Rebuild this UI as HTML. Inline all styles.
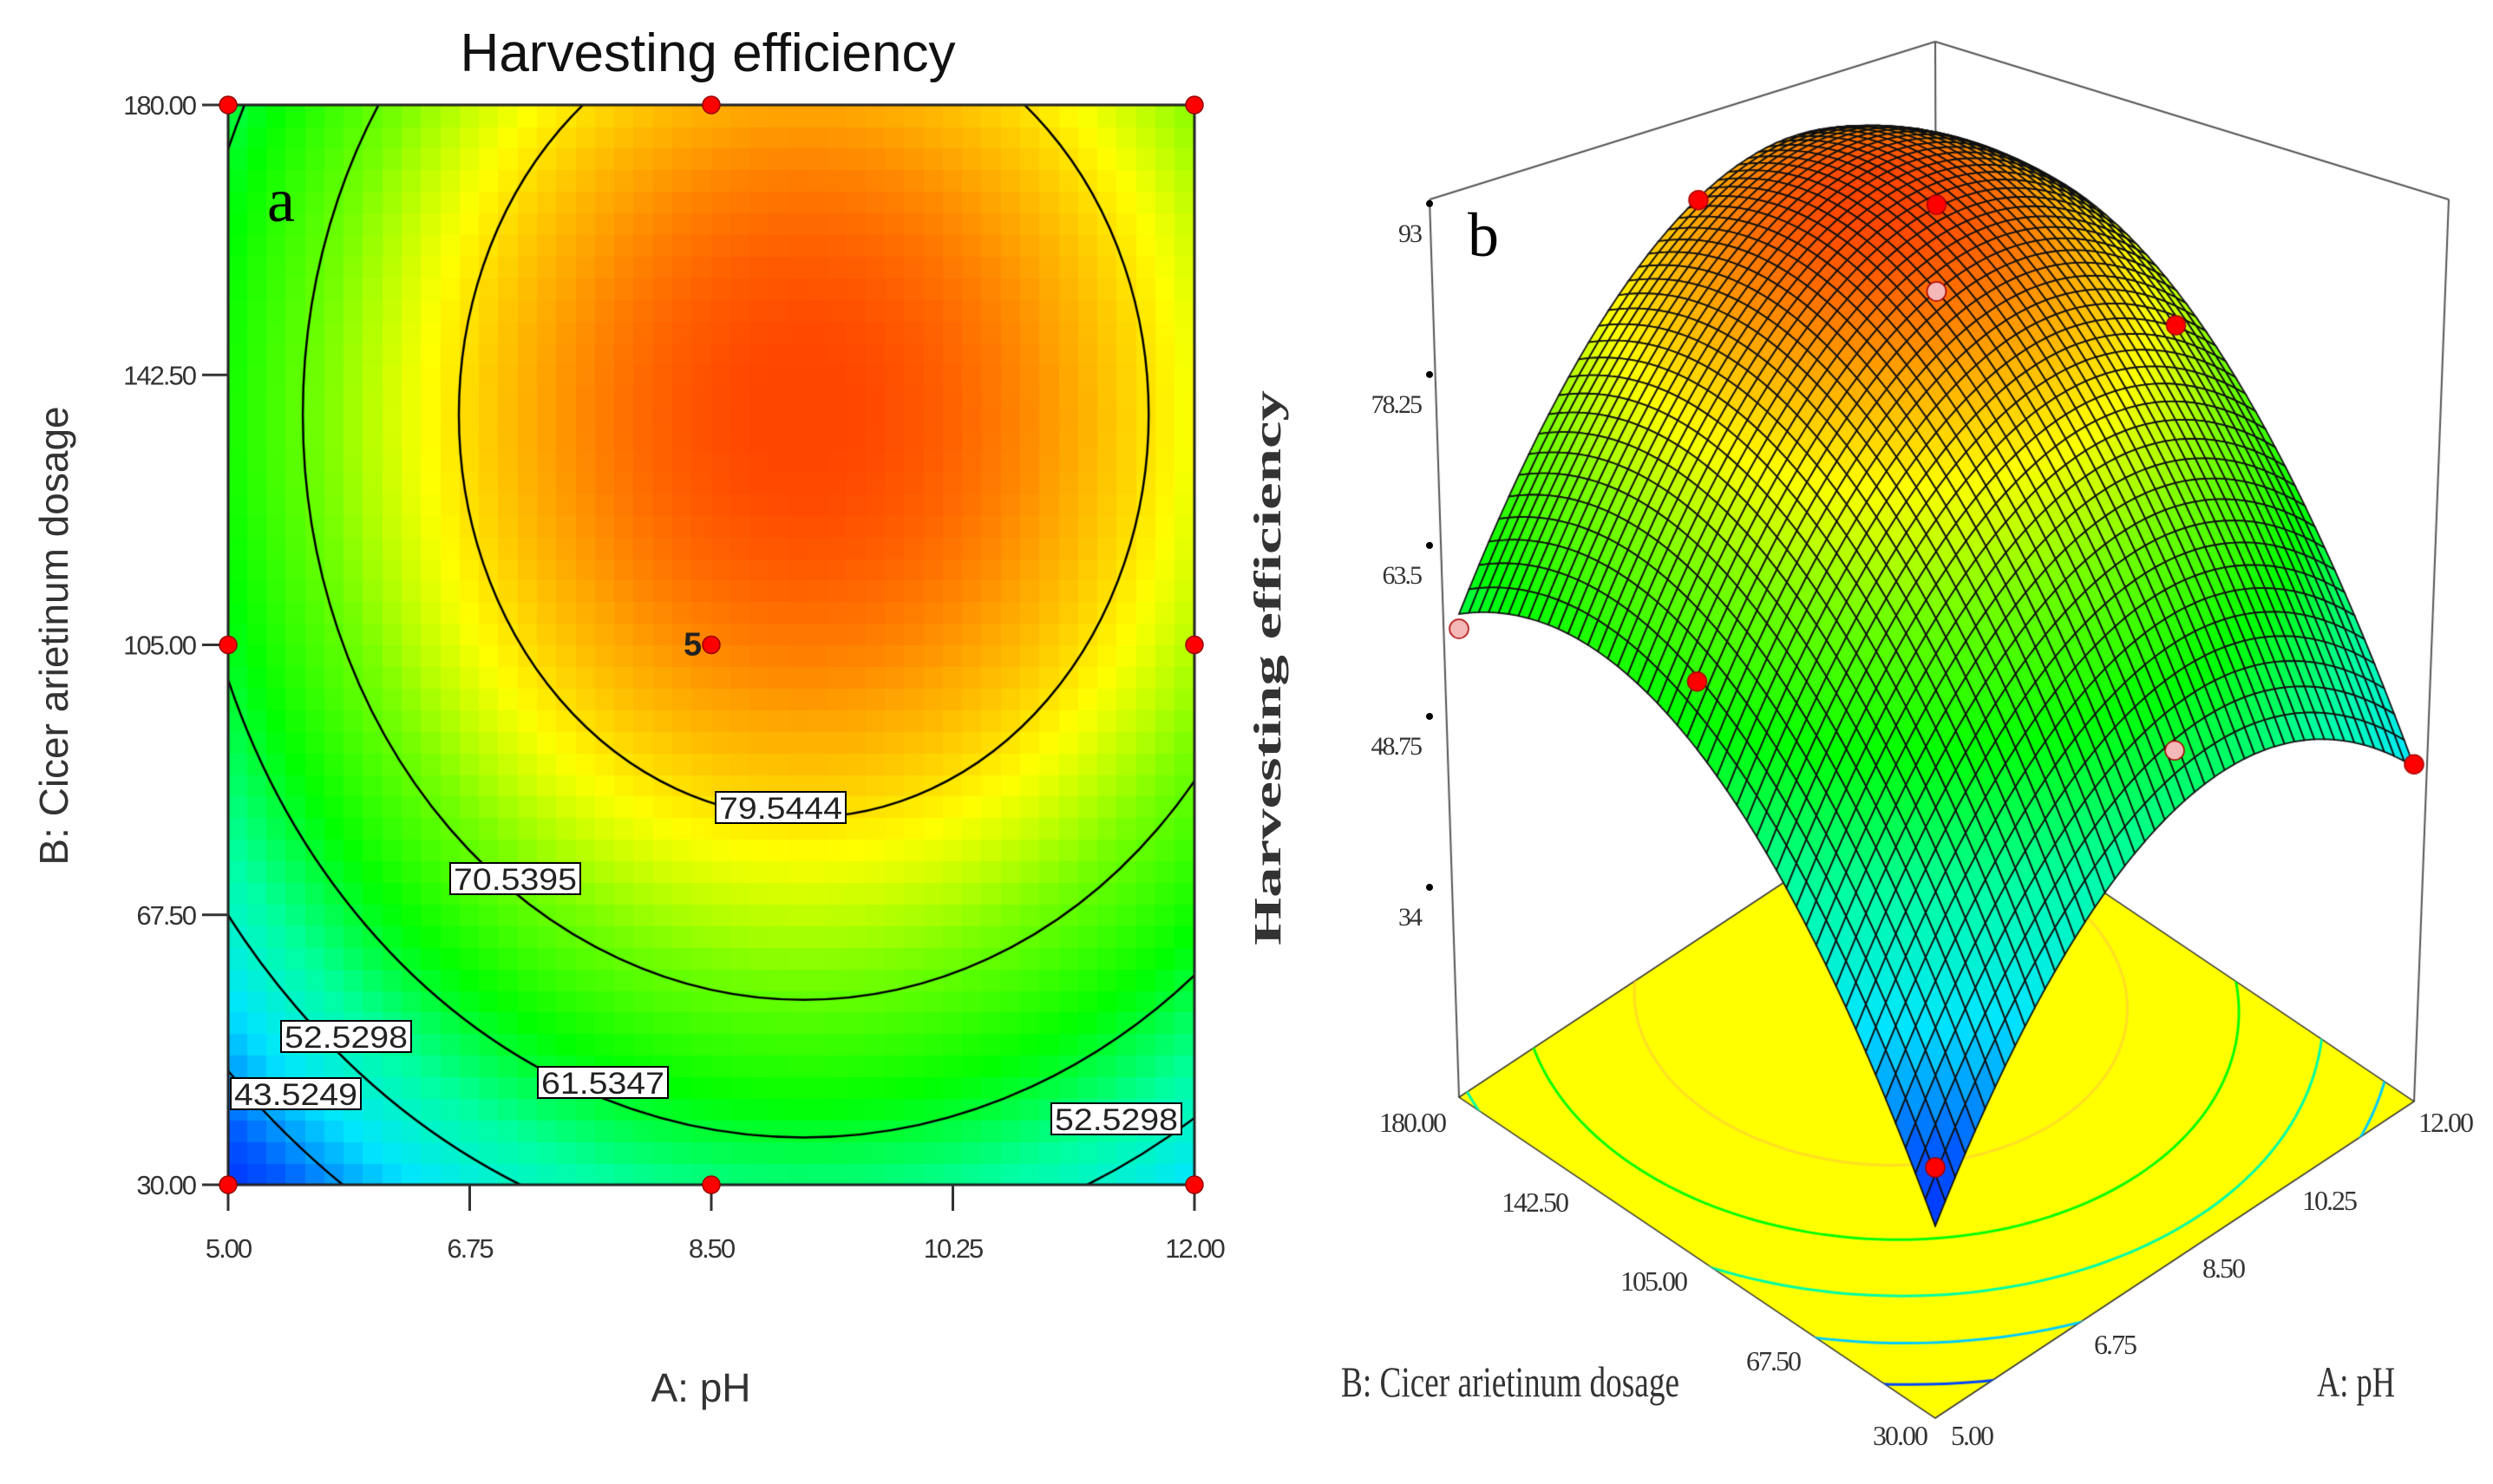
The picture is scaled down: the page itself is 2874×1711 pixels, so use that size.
<!DOCTYPE html>
<html><head><meta charset="utf-8">
<style>
html,body{margin:0;padding:0;background:#fff;}
#wrap{position:relative;width:2874px;height:1711px;overflow:hidden;background:#fff;}
canvas,svg{position:absolute;left:0;top:0;}
</style></head>
<body>
<div id="wrap">
<canvas id="cv" width="2874" height="1711"></canvas>
<svg id="sv" width="2874" height="1711" font-family="Liberation Sans, sans-serif"></svg>
</div>
<script>
// ---- data ----
const modelCoef = [87.66, 9.17, 137, 1.30, 0.00259]; // peak, pH0, B0, a (pH^2), b (B^2)
const contourLevels = [43.5249, 52.5298, 61.5347, 70.5395, 79.5444];
const xTicks = [5.00, 6.75, 8.50, 10.25, 12.00];
const yTicks = [30.00, 67.50, 105.00, 142.50, 180.00];
const zTicks = [34, 48.75, 63.5, 78.25, 93];
const designPH = [5, 8.5, 12, 5, 8.5, 12, 5, 8.5, 12];
const designB  = [30, 30, 30, 105, 105, 105, 180, 180, 180];
const design3dPH = [5, 8.5, 12, 5, 8.5, 8.5, 12, 5, 8.5];
const design3dB  = [30, 30, 30, 105, 105, 105, 105, 180, 180];
const design3dZ  = [40.4, 62.5, 47.8, 68.2, 95.4, 88, 71.6, 59, 82.1];
const design3dPink = [0, 1, 0, 0, 0, 1, 0, 1, 0];

function model(A,B){const c=modelCoef;return c[0]-c[3]*(A-c[1])**2-c[4]*(B-c[2])**2;}
const stops=[[30,[0,0,255]],[40,[0,90,255]],[48,[0,230,255]],[56,[0,255,160]],[64,[0,255,0]],[72,[120,255,0]],[78,[255,255,0]],[83,[255,165,0]],[87.5,[255,70,0]]];
function cmap(v){if(v<=stops[0][0])return stops[0][1];for(let i=1;i<stops.length;i++){if(v<=stops[i][0]){const t=(v-stops[i-1][0])/(stops[i][0]-stops[i-1][0]);const a=stops[i-1][1],b=stops[i][1];return a.map((x,k)=>Math.round(x+(b[k]-x)*t));}}return stops[stops.length-1][1];}
function rgb(c){return 'rgb('+c[0]+','+c[1]+','+c[2]+')';}

// ---- 2D axes ----
const PX0=263,PX1=1377,PY0=121,PY1=1366;
const sx=v=>PX0+(v-5)/7*(PX1-PX0);
const sy=v=>PY1-(v-30)/150*(PY1-PY0);

const cv=document.getElementById('cv');const ctx=cv.getContext('2d');
const N=50;
for(let i=0;i<N;i++)for(let j=0;j<N;j++){
  const A=5+7*(i+0.5)/N,B=30+150*(j+0.5)/N;
  ctx.fillStyle=rgb(cmap(model(A,B)));
  const x0=sx(5+7*i/N),x1=sx(5+7*(i+1)/N),y0=sy(30+150*(j+1)/N),y1=sy(30+150*j/N);
  ctx.fillRect(Math.floor(x0),Math.floor(y0),Math.ceil(x1-x0)+1,Math.ceil(y1-y0)+1);
}
ctx.save();ctx.beginPath();ctx.rect(PX0,PY0,PX1-PX0,PY1-PY0);ctx.clip();
ctx.strokeStyle='#000';ctx.lineWidth=2.5;
contourLevels.forEach(L=>{const d=modelCoef[0]-L;if(d<=0)return;
  const rA=Math.sqrt(d/modelCoef[3]),rB=Math.sqrt(d/modelCoef[4]);
  ctx.beginPath();ctx.ellipse(sx(modelCoef[1]),sy(modelCoef[2]),rA/7*(PX1-PX0),rB/150*(PY1-PY0),0,0,Math.PI*2);ctx.stroke();});
ctx.restore();
ctx.strokeStyle='#222';ctx.lineWidth=3;ctx.strokeRect(PX0,PY0,PX1-PX0,PY1-PY0);

// ---- 3D projection ----
const F=[2231,1635],R=[2783,1270],L=[1682,1265],ZB=19,ZS=13.5;
function proj(A,B,z){const fx=(A-5)/7,fy=(B-30)/150;return [F[0]+fx*(R[0]-F[0])+fy*(L[0]-F[0]),F[1]+fx*(R[1]-F[1])+fy*(L[1]-F[1])-(z-ZB)*ZS];}
ctx.strokeStyle='#555';ctx.lineWidth=2;
const back=proj(12,180,ZB);
function ln(a,b){ctx.beginPath();ctx.moveTo(a[0],a[1]);ctx.lineTo(b[0],b[1]);ctx.stroke();}
ln([2231,48],[back[0],back[1]]);
ln([1648,230],[2231,48]);ln([2231,48],[2823,230]);
ln([1648,230],L);ln([2823,230],R);
ctx.fillStyle='#ffff00';ctx.beginPath();
[[5,30],[12,30],[12,180],[5,180]].forEach((p,k)=>{const q=proj(p[0],p[1],ZB);k?ctx.lineTo(q[0],q[1]):ctx.moveTo(q[0],q[1]);});
ctx.closePath();ctx.fill();ctx.strokeStyle='#333';ctx.lineWidth=1.5;ctx.stroke();
ctx.save();ctx.clip();
contourLevels.forEach(Lv=>{const d=modelCoef[0]-Lv;const rA=Math.sqrt(d/modelCoef[3]),rB=Math.sqrt(d/modelCoef[4]);
  const c=cmap(Lv-6);ctx.strokeStyle=Lv>75?'rgba(255,200,60,0.6)':rgb(c);ctx.lineWidth=3;ctx.beginPath();
  for(let k=0;k<=200;k++){const t=k/200*Math.PI*2;const q=proj(modelCoef[1]+rA*Math.cos(t),modelCoef[2]+rB*Math.sin(t),ZB);k?ctx.lineTo(q[0],q[1]):ctx.moveTo(q[0],q[1]);}
  ctx.stroke();});
ctx.restore();
const M=48,quads=[];
for(let i=0;i<M;i++)for(let j=0;j<M;j++)quads.push([i,j,(i+j)]);
quads.sort((a,b)=>b[2]-a[2]);
ctx.lineWidth=1.8;ctx.strokeStyle='#111';
quads.forEach(([i,j])=>{
  const a0=5+7*i/M,a1=5+7*(i+1)/M,b0=30+150*j/M,b1=30+150*(j+1)/M;
  const pts=[[a0,b0],[a1,b0],[a1,b1],[a0,b1]].map(p=>proj(p[0],p[1],model(p[0],p[1])));
  ctx.fillStyle=rgb(cmap(model((a0+a1)/2,(b0+b1)/2)));
  ctx.beginPath();pts.forEach((q,k)=>k?ctx.lineTo(q[0],q[1]):ctx.moveTo(q[0],q[1]));ctx.closePath();ctx.fill();ctx.stroke();
});
design3dPH.forEach((A,k)=>{const q=proj(A,design3dB[k],design3dZ[k]);
  ctx.beginPath();ctx.arc(q[0],q[1],11,0,Math.PI*2);ctx.fillStyle=design3dPink[k]?'#f4b8b8':'#ff0000';ctx.fill();ctx.strokeStyle='#a00';ctx.lineWidth=1.5;ctx.stroke();});

// ---- SVG overlay ----
const NS='http://www.w3.org/2000/svg';const sv=document.getElementById('sv');
function el(tag,attrs,txt){const e=document.createElementNS(NS,tag);for(const k in attrs)e.setAttribute(k,attrs[k]);if(txt!==undefined)e.textContent=txt;sv.appendChild(e);return e;}
let e;
e=el('text',{x:816,y:82,'font-size':62,'text-anchor':'middle',fill:'#111'},'Harvesting efficiency');


xTicks.forEach(v=>{
  e=el('line',{x1:sx(v),x2:sx(v),y1:PY1,y2:PY1+30,stroke:'#333','stroke-width':3});
  
  
  e=el('text',{x:sx(v),y:1450,'font-size':31,'text-anchor':'middle',fill:'#333','letter-spacing':-2},v.toFixed(2));
  
  
});
yTicks.forEach(v=>{
  e=el('line',{x1:PX0-30,x2:PX0,y1:sy(v),y2:sy(v),stroke:'#333','stroke-width':3});
  
  
  e=el('text',{x:PX0-38,y:sy(v)+11,'font-size':31,'text-anchor':'end',fill:'#333','letter-spacing':-2},v.toFixed(2));
  
  
});
e=el('text',{x:808,y:1616,'font-size':46,'text-anchor':'middle',fill:'#333'},'A: pH');


e=el('text',{x:0,y:0,'font-size':46,'text-anchor':'middle',fill:'#333',transform:'translate(78,733) rotate(-90)'},'B: Cicer arietinum dosage');


e=el('text',{x:308,y:255,'font-size':72,fill:'#000','font-family':'Liberation Serif, serif'},'a');


const labelPos=[[266,1243,'43.5249'],[324,1177,'52.5298'],[620,1230,'61.5347'],[519,995,'70.5395'],[825,913,'79.5444'],[1212,1272,'52.5298']];
labelPos.forEach(p=>{
  e=el('rect',{x:p[0],y:p[1],width:150,height:36,fill:'#fff',stroke:'#000','stroke-width':2});
  
  
  e=el('text',{x:p[0]+4,y:p[1]+31,'font-size':35,fill:'#222',textLength:142,lengthAdjust:'spacingAndGlyphs'},p[2]);
  
  
});
designPH.forEach((A,k)=>{
  e=el('circle',{cx:sx(A),cy:sy(designB[k]),r:10,fill:'#ff0000',stroke:'#900','stroke-width':1.5});
  
  
});
e=el('text',{x:sx(8.5)-32,y:sy(105)+12,'font-size':38,'font-weight':'bold',fill:'#222'},'5');



const serif='Liberation Serif, serif';
const zPix=v=>1023-(v-34)*13.36;
zTicks.forEach(v=>{
  e=el('circle',{cx:1648+(1023-zPix(v))*0,cy:zPix(v),r:4,fill:'#000'});
  
  
  e=el('text',{x:1638,y:zPix(v)+44,'font-size':30,'text-anchor':'end',fill:'#333','font-family':serif,'letter-spacing':-2},String(v));
  
  
});
const bLab=[[1628,1305,'180.00'],[1769,1397,'142.50'],[1906,1488,'105.00'],[2044,1580,'67.50'],[2190,1666,'30.00']];
bLab.forEach(p=>{e=el('text',{x:p[0],y:p[1],'font-size':32,'text-anchor':'middle',fill:'#333','font-family':serif,'letter-spacing':-2},p[2]);
  
  });
const aLab=[[2273,1666,'5.00'],[2438,1561,'6.75'],[2563,1473,'8.50'],[2685,1395,'10.25'],[2819,1305,'12.00']];
aLab.forEach(p=>{e=el('text',{x:p[0],y:p[1],'font-size':32,'text-anchor':'middle',fill:'#333','font-family':serif,'letter-spacing':-2},p[2]);
  
  });
e=el('text',{x:1741,y:1610,'font-size':50,'text-anchor':'middle',fill:'#333','font-family':serif,textLength:390,lengthAdjust:'spacingAndGlyphs'},'B: Cicer arietinum dosage');


e=el('text',{x:2716,y:1610,'font-size':50,'text-anchor':'middle',fill:'#333','font-family':serif,textLength:90,lengthAdjust:'spacingAndGlyphs'},'A: pH');


e=el('text',{x:0,y:0,'font-size':44,'font-weight':'bold','text-anchor':'middle',fill:'#333','font-family':serif,textLength:640,lengthAdjust:'spacingAndGlyphs',transform:'translate(1476,770) rotate(-90)'},'Harvesting efficiency');


e=el('text',{x:1692,y:295,'font-size':72,fill:'#000','font-family':serif},'b');


</script>
</body></html>
